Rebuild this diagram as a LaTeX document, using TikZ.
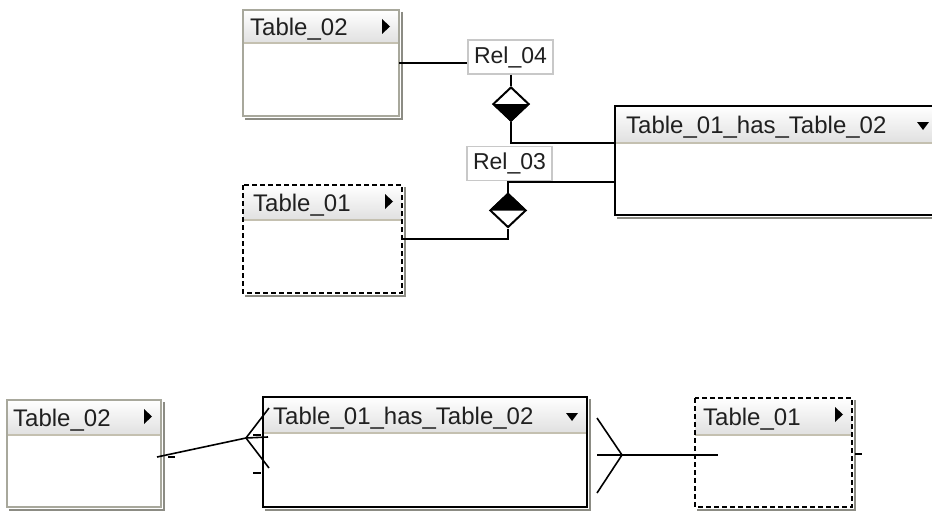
\documentclass[tikz,border=0pt]{standalone}
\usepackage{fontspec}
\setmainfont{Liberation Sans}
\usetikzlibrary{shapes.geometric,calc}
\definecolor{hdgray}{HTML}{E0E0E0}
\definecolor{sepcol}{HTML}{C4C0B0}
\definecolor{bordgray}{HTML}{A8A89C}
\definecolor{shadgray}{HTML}{8C8C84}
\definecolor{relgray}{HTML}{C8C8C8}
\definecolor{txt}{HTML}{202020}
\tikzset{
  tbody/.style={rectangle, fill=white, inner sep=0pt, outer sep=0pt},
  sepline/.style={draw=sepcol, line width=1.5pt},
  tlabel/.style={font=\fontsize{24}{28}\selectfont, text=txt, inner sep=0pt},
  plainborder/.style={draw=bordgray, line width=1.8pt},
  boldborder/.style={draw=black, line width=2.2pt},
  dashborder/.style={draw=black, line width=2.5pt, dash pattern=on 5pt off 3pt},
  shadowline/.style={draw=shadgray, line width=2pt},
  relbox/.style={rectangle, draw=relgray, line width=1.5pt, fill=white, font=\fontsize{23}{27}\selectfont, text=txt, minimum width=85pt, minimum height=34pt, inner sep=0pt},
  conn/.style={draw=black, line width=2pt},
  fconn/.style={draw=black, line width=1.6pt},
  tick/.style={draw=black, line width=1.5pt},
  relshape/.style={diamond, draw=black, line width=2pt, fill=white, minimum width=36pt, minimum height=34pt, inner sep=0pt},
  tri/.style={fill=black},
}
% #1 name, #2 x, #3 y, #4 w, #5 h, #6 header h, #7 label, #8 border style, #9 text x offset
\newcommand{\ertable}[9]{%
  \node[tbody, minimum width=#4pt, minimum height=#5pt, anchor=north west] (#1) at (#2,#3) {};
  \shade[top color=white, bottom color=hdgray] (#1.north west) rectangle ([yshift=-#6pt]#1.north east);
  \draw[sepline] ([yshift=-#6pt]#1.north west) -- ([yshift=-#6pt]#1.north east);
  \draw[shadowline] ([xshift=2.5pt,yshift=-2pt]#1.north east) -- ([xshift=2.5pt,yshift=-2.5pt]#1.south east) -- ([xshift=2pt,yshift=-2.5pt]#1.south west);
  \draw[#8] (#1.north west) rectangle (#1.south east);
  \node[tlabel, anchor=base west] (#1-label) at ($(#1.north west)+(#9,{#6/2+9})$) {#7};
}
\newcommand{\rtri}[1]{\fill[tri] ([xshift=-17pt,yshift=-9pt]#1.north east) -- ++(0,15) -- ++(8,-7.5) -- cycle;}
\newcommand{\dtri}[1]{\fill[tri] ([xshift=-21pt,yshift=-16pt]#1.north east) -- ++(12,0) -- ++(-6,8) -- cycle;}
\begin{document}
\begin{tikzpicture}[x=1pt,y=-1pt]
\useasboundingbox (0,0) rectangle (932,511);
\clip (0,0) rectangle (932,511);

% upper diagram
\ertable{t2a}{243}{10}{156}{106}{33}{Table\_02}{plainborder}{7}
\rtri{t2a}
\ertable{t1a}{243}{185}{159}{108}{35}{Table\_01}{dashborder}{10}
\rtri{t1a}
\ertable{h1}{615}{106}{323}{109}{37}{Table\_01\_has\_Table\_02}{boldborder}{11}
\dtri{h1}

\node[relbox] (r4) at (510.5,57) {Rel\_04};
\node[relbox] (r3) at (509.5,163.5) {Rel\_03};
\node[relshape] (d4) at (511,104) {};
\fill (d4.west) -- (d4.south) -- (d4.east) -- cycle;
\node[relshape] (d3) at (508,210.5) {};
\fill (d3.west) -- (d3.north) -- (d3.east) -- cycle;

\draw[conn] (t2a.east) -- (t2a.east -| r4.west);
\draw[conn] (d4.north |- r4.south) -- (d4.north);
\draw[conn] (d4.south) |- ([yshift=-37pt]h1.north west);
\draw[conn] ([yshift=-76pt]h1.north west) -| (d3.north);
\draw[conn] (d3.south) |- (t1a.east);

% lower diagram
\ertable{t2b}{7}{400}{154}{107}{35}{Table\_02}{plainborder}{6}
\rtri{t2b}
\ertable{h2}{263}{397}{324}{110}{36}{Table\_01\_has\_Table\_02}{boldborder}{10}
\dtri{h2}
\ertable{t1b}{695}{398}{157}{109}{37}{Table\_01}{dashborder}{8}
\rtri{t1b}

\coordinate (ls) at (157,457);
\coordinate (fL) at (246,438);
\coordinate (pL1) at (269,408);
\coordinate (pL2) at (268,437);
\coordinate (pL3) at (269,468);
\draw[fconn] (ls) -- (fL);
\draw[fconn] (fL) -- (pL1);
\draw[fconn] (fL) -- (pL2);
\draw[fconn] (fL) -- (pL3);

\coordinate (rs) at (597,455);
\coordinate (re) at (718,455);
\coordinate (fR) at (622,455);
\coordinate (pR1) at (597,418);
\coordinate (pR3) at (597,493);
\draw[fconn] (rs) -- (re);
\draw[fconn] (fR) -- (pR1);
\draw[fconn] (fR) -- (pR3);

\coordinate (k1a) at (168,457); \coordinate (k1b) at (175,457);
\coordinate (k2a) at (253,435); \coordinate (k2b) at (261,435);
\coordinate (k3a) at (253,473); \coordinate (k3b) at (261,473);
\coordinate (k4a) at (855,454); \coordinate (k4b) at (862,454);
\draw[tick] (k1a) -- (k1b);
\draw[tick] (k2a) -- (k2b);
\draw[tick] (k3a) -- (k3b);
\draw[tick] (k4a) -- (k4b);
\end{tikzpicture}
\end{document}
